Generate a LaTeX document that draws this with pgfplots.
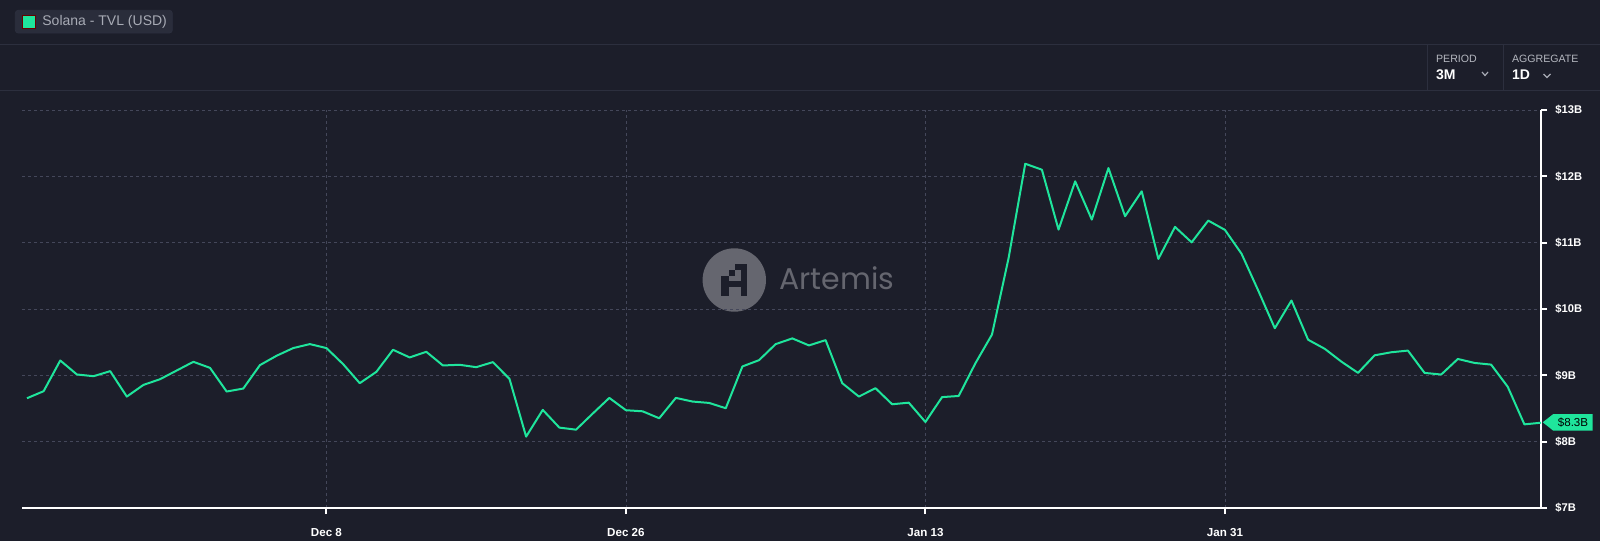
\documentclass[border=0pt]{standalone}
\usepackage{pgfplots}
\pgfplotsset{compat=1.18}
\usepackage{fontspec}
\setmainfont{Liberation Sans}
\newfontfamily\wmfont{Poppins}
\definecolor{bg}{HTML}{1C1E2A}
\definecolor{boxbg}{HTML}{2A2D3B}
\definecolor{sepc}{HTML}{2C2F3E}
\definecolor{gridc}{HTML}{44475A}
\definecolor{mint}{HTML}{1FE59C}
\definecolor{lbl}{HTML}{A8ABB5}
\definecolor{wm}{HTML}{65666F}
\begin{document}
\begin{tikzpicture}[x=0.5pt,y=-0.5pt]
\fill[bg] (0,0) rectangle (1600,541);
\path[use as bounding box] (0,0) rectangle (1600,541);
% header
\draw[sepc, line width=0.5pt] (0,44) -- (1600,44);
\draw[sepc, line width=0.5pt] (0,90) -- (1600,90);
\draw[sepc, line width=0.5pt] (1427,44) -- (1427,90);
\draw[sepc, line width=0.5pt] (1503,44) -- (1503,90);
\fill[boxbg, draw=sepc, line width=0.4pt, rounded corners=1.5pt] (15.3,10.3) rectangle (172.3,33);
\fill[mint, draw=black!60!red, line width=0.3pt] (22,15.7) rectangle (35,28.3);
\node[anchor=west, inner sep=0pt, text=lbl, font=\fontsize{7}{8}\selectfont] at (42,22) {Solana - TVL (USD)};
\node[anchor=west, inner sep=0pt, text=lbl!85, font=\fontsize{5.3}{6}\selectfont] at (1435.7,58.8) {PERIOD};
\node[anchor=west, inner sep=0pt, text=white!92, font=\fontsize{7}{8}\selectfont\bfseries] at (1435.7,75) {3M};
\node[anchor=west, inner sep=0pt, text=lbl!85, font=\fontsize{5.3}{6}\selectfont] at (1511.7,58.8) {AGGREGATE};
\node[anchor=west, inner sep=0pt, text=white!92, font=\fontsize{7}{8}\selectfont\bfseries] at (1511.7,75) {1D};
\draw[lbl, line width=0.6pt] (1482,72) -- (1485,75.5) -- (1488,72);
\draw[lbl, line width=0.6pt] (1543.5,74) -- (1547,77.5) -- (1550.5,74);
% watermark
\fill[wm] (734.3,280) circle (31.7);
\fill[bg] (735,264.3) rectangle (747.3,270);
\fill[bg] (740.5,264.3) rectangle (747.3,295.7);
\fill[bg] (728.5,269.5) rectangle (735,275.5);
\fill[bg] (720.7,275.5) rectangle (728.5,295.7);
\fill[bg] (720.7,281) rectangle (747.3,287);
\node[anchor=base west, inner sep=0pt, text=wm, font=\fontsize{15}{16}\wmfont] at (779,289.3) {Artemis};
\begin{axis}[
  at={(11pt,-254pt)}, anchor=south west, scale only axis,
  width=759.5pt, height=199pt,
  xmin=-0.3, xmax=91, ymin=7, ymax=13,
  axis x line*=bottom, axis y line*=right,
  axis line style={white, line width=1pt},
  xtick={18,36,54,72},
  xticklabels={Dec 8,Dec 26,Jan 13,Jan 31},
  ytick={7,8,9,10,11,12,13},
  yticklabels={\$7B,\$8B,\$9B,\$10B,\$11B,\$12B,\$13B},
  tick align=outside,
  major tick length=3pt,
  tick style={white, line width=1pt},
  xmajorgrids, ymajorgrids,
  grid style={gridc, line width=0.4pt, dash pattern=on 1.5pt off 1.5pt},
  xticklabel style={anchor=north, inner sep=0pt, yshift=-7pt, text=white!90, font=\fontsize{5.8}{6}\selectfont\bfseries},
  yticklabel style={anchor=west, inner sep=0pt, xshift=4pt, text=white!95, font=\fontsize{5.6}{6}\selectfont\bfseries},
  clip=false,
]
\addplot[mint, line width=1pt, line join=round] coordinates {
(0,8.655)(1,8.761)(2,9.224)(3,9.013)(4,8.987)(5,9.063)(6,8.680)(7,8.856)(8,8.942)(9,9.073)
(10,9.204)(11,9.113)(12,8.756)(13,8.801)(14,9.154)(15,9.295)(16,9.411)(17,9.471)(18,9.411)(19,9.169)
(20,8.882)(21,9.053)(22,9.385)(23,9.270)(24,9.355)(25,9.149)(26,9.159)(27,9.123)(28,9.199)(29,8.947)
(30,8.076)(31,8.479)(32,8.212)(33,8.181)(34,8.423)(35,8.660)(36,8.474)(37,8.458)(38,8.353)(39,8.660)
(40,8.605)(41,8.584)(42,8.504)(43,9.134)(44,9.229)(45,9.471)(46,9.557)(47,9.451)(48,9.531)(49,8.882)
(50,8.680)(51,8.806)(52,8.564)(53,8.588)(54,8.297)(55,8.672)(56,8.689)(57,9.180)(58,9.615)(59,10.77)
(60,12.19)(61,12.10)(62,11.197)(63,11.925)(64,11.348)(65,12.125)(66,11.398)(67,11.774)(68,10.755)(69,11.238)
(70,11.005)(71,11.333)(72,11.193)(73,10.833)(74,10.28)(75,9.71)(76,10.128)(77,9.537)(78,9.40)(79,9.207)
(80,9.037)(81,9.302)(82,9.348)(83,9.373)(84,9.037)(85,9.012)(86,9.247)(87,9.187)(88,9.162)(89,8.827)
(90,8.261)(91,8.286)
};
\end{axis}
% current value tag
\fill[mint] (1542.7,422.3) -- (1553.3,414) -- (1592.7,414) -- (1592.7,430.7) -- (1553.3,430.7) -- cycle;
\node[inner sep=0pt, text=black, font=\fontsize{5.8}{6}\selectfont] at (1573,422.5) {\$8.3B};
\end{tikzpicture}
\end{document}
